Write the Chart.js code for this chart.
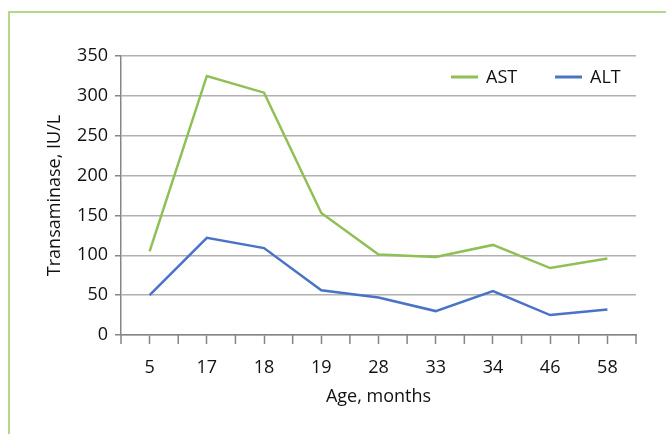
<!DOCTYPE html>
<html>
<head>
<meta charset="utf-8">
<script src="https://cdn.jsdelivr.net/npm/chart.js@4"></script>
<style>
  html, body { margin: 0; padding: 0; background: #fff; overflow: hidden; }
  .frame {
    position: absolute; left: 8px; top: 11px;
    width: 720px; height: 500px;
    border-left: 2px solid #b4d88a; border-top: 2px solid #b4d88a;
  }
  .wrap { position: absolute; left: 0; top: 0; width: 666px; height: 434px; }
</style>
</head>
<body>
<div class="frame"></div>
<div class="wrap"><canvas id="chart"></canvas></div>
<script>
// Chart values
const ages = ['5', '17', '18', '19', '28', '33', '34', '46', '58'];
const astValues = [105, 325, 304, 153, 101, 98, 113, 84, 96];
const altValues = [50, 122, 109, 56, 47, 30, 55, 25, 32];
const yTicks = [0, 50, 100, 150, 200, 250, 300, 350];

const FONT = '"Open Sans", "Noto Sans", sans-serif';
const AST_GREEN = '#8fbf55';
const ALT_BLUE = '#4a72c6';
const AXIS_GRAY = '#868686';

// Extra tick marks between categories on the x axis
const boundaryTicks = {
    id: 'boundaryTicks',
    afterDraw(chart) {
        const x = chart.scales.x;
        const ctx = chart.ctx;
        const half = (x.getPixelForValue(1) - x.getPixelForValue(0)) / 2;
        ctx.save();
        ctx.strokeStyle = AXIS_GRAY;
        ctx.lineWidth = 1.5;
        ctx.beginPath();
        for (let i = 0; i <= ages.length; i++) {
            const px = x.getPixelForValue(0) - half + i * half * 2;
            ctx.moveTo(px, x.top);
            ctx.lineTo(px, x.top + 9);
        }
        ctx.stroke();
        ctx.restore();
    }
};

// Legend drawn inside the plot, top right
const innerLegend = {
    id: 'innerLegend',
    afterDraw(chart) {
        const ctx = chart.ctx;
        const area = chart.chartArea;
        ctx.save();
        ctx.font = '18px ' + FONT;
        ctx.textBaseline = 'middle';
        const y = area.top + 21;
        let x = area.right - 185;
        chart.data.datasets.forEach(ds => {
            ctx.strokeStyle = ds.borderColor;
            ctx.lineWidth = 3;
            ctx.beginPath();
            ctx.moveTo(x, y);
            ctx.lineTo(x + 27, y);
            ctx.stroke();
            ctx.fillStyle = '#111';
            ctx.fillText(ds.label, x + 35, y + 1);
            x += 104;
        });
        ctx.restore();
    }
};

const config = {
    type: 'line',
    data: {
        labels: ages,
        datasets: [
            {
                label: 'AST',
                data: astValues,
                borderColor: AST_GREEN,
                borderWidth: 2.5,
                pointRadius: 0,
                tension: 0,
            },
            {
                label: 'ALT',
                data: altValues,
                borderColor: ALT_BLUE,
                borderWidth: 2.5,
                pointRadius: 0,
                tension: 0,
            }
        ]
    },
    options: {
        responsive: true,
        maintainAspectRatio: false,
        animation: false,
        layout: { padding: { left: 44, top: 56, right: 30, bottom: 26 } },
        plugins: {
            legend: { display: false },
            tooltip: { enabled: false }
        },
        scales: {
            x: {
                offset: true,
                grid: {
                    offset: false,
                    drawOnChartArea: false,
                    drawTicks: true,
                    tickLength: 9,
                    tickColor: AXIS_GRAY,
                    tickWidth: 1.5
                },
                border: { color: AXIS_GRAY, width: 1.5 },
                ticks: {
                    color: '#111',
                    font: { family: FONT, size: 18 },
                    padding: 13,
                    maxRotation: 0
                },
                title: {
                    display: true,
                    text: 'Age, months',
                    color: '#111',
                    font: { family: FONT, size: 18 },
                    padding: { top: 2, bottom: 0 }
                },
                afterFit(scale) { scale.height = 73; }
            },
            y: {
                min: 0,
                max: 350,
                afterBuildTicks(scale) { scale.ticks = yTicks.map(v => ({ value: v })); },
                grid: {
                    color: '#b0b0b0',
                    lineWidth: 1.5,
                    tickLength: 6,
                    tickColor: AXIS_GRAY
                },
                border: { color: AXIS_GRAY, width: 1.5 },
                ticks: {
                    color: '#111',
                    font: { family: FONT, size: 18 },
                    padding: 7
                },
                title: {
                    display: true,
                    text: 'Transaminase, IU/L',
                    color: '#111',
                    font: { family: FONT, size: 18 },
                    padding: { top: 0, bottom: 0 }
                },
                afterFit(scale) { scale.width = 77; }
            }
        }
    },
    plugins: [boundaryTicks, innerLegend]
};

document.addEventListener('DOMContentLoaded', () => {
    new Chart(document.getElementById('chart'), config);
});
</script>
</body>
</html>
